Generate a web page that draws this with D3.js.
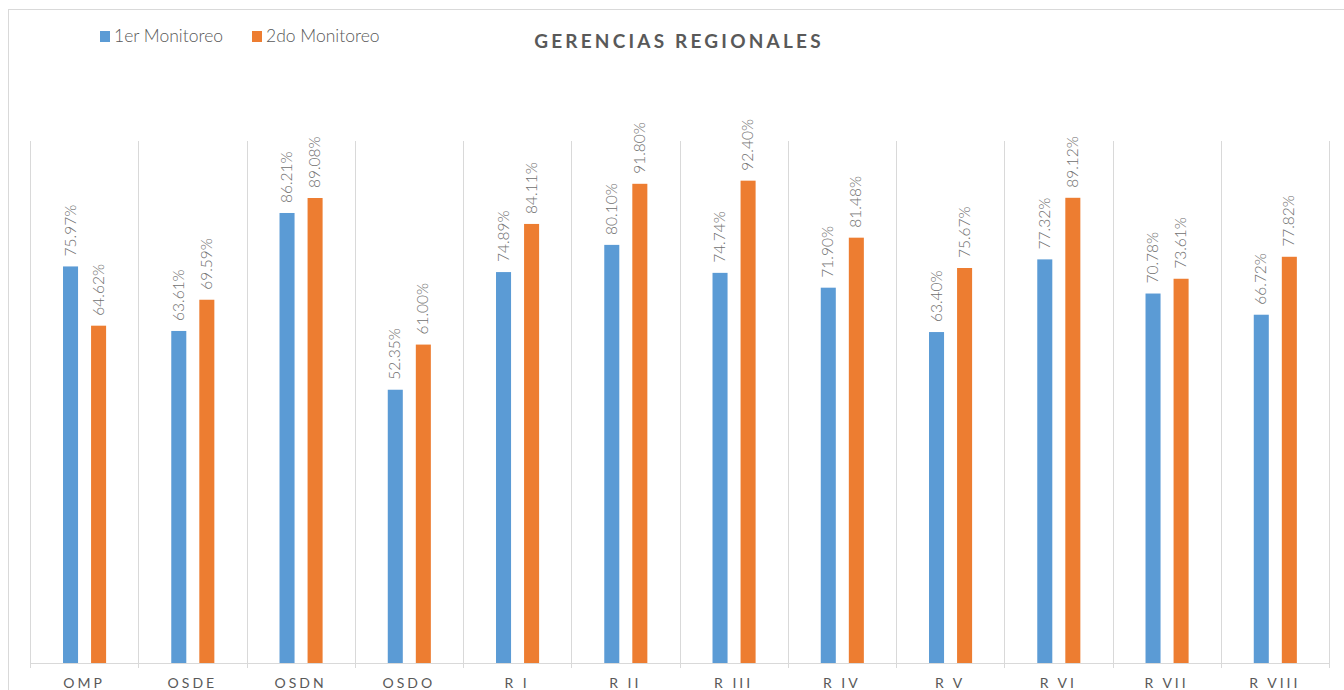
<!DOCTYPE html>
<html>
<head>
<meta charset="utf-8">
<script src="https://cdn.jsdelivr.net/npm/d3@7"></script>
<style>
body { margin: 0; background: #fff; }
svg text { font-family: Lato, "Open Sans", sans-serif; fill: #595959; }
</style>
</head>
<body>
<div id="chart"></div>
<script>
var categories = ["OMP", "OSDE", "OSDN", "OSDO", "R I", "R II", "R III", "R IV", "R V", "R VI", "R VII", "R VIII"];
var monitoreo1 = [75.97, 63.61, 86.21, 52.35, 74.89, 80.10, 74.74, 71.90, 63.40, 77.32, 70.78, 66.72];
var monitoreo2 = [64.62, 69.59, 89.08, 61.00, 84.11, 91.80, 92.40, 81.48, 75.67, 89.12, 73.61, 77.82];
var seriesNames = ["1er Monitoreo", "2do Monitoreo"];
var colors = ["#5b9bd5", "#ed7d31"];

var W = 1344, H = 690;
var margin = {top: 141, right: 15, bottom: 27, left: 30};

var svg = d3.select("#chart").append("svg")
	.attr("width", W)
	.attr("height", H);

// chart frame
svg.append("line").attr("x1", 8.5).attr("x2", 8.5).attr("y1", 9).attr("y2", H)
	.attr("stroke", "#d9d9d9");
svg.append("line").attr("x1", 8).attr("x2", W).attr("y1", 9.5).attr("y2", 9.5)
	.attr("stroke", "#d9d9d9");

var x = d3.scaleBand()
	.domain(categories)
	.range([margin.left, W - margin.right]);

var y = d3.scaleLinear()
	.domain([0, 100])
	.range([H - margin.bottom, margin.top]);

// two bars inside each category, roughly a third in from the left
var x1 = d3.scaleBand()
	.domain([0, 1])
	.range([x.bandwidth() * 0.305, x.bandwidth() * 0.703])
	.paddingInner(0.464);

// vertical separators between categories
var edges = categories.map(function(c) { return x(c); }).concat([x.range()[1]]);
svg.append("g").selectAll("line")
	.data(edges).enter()
	.append("line")
	.attr("x1", function(d) { return Math.round(d) + 0.5; })
	.attr("x2", function(d) { return Math.round(d) + 0.5; })
	.attr("y1", y(100))
	.attr("y2", y(0) + 5)
	.attr("stroke", "#d9d9d9");

// baseline
svg.append("line")
	.attr("x1", x.range()[0]).attr("x2", x.range()[1])
	.attr("y1", y(0) + 0.5).attr("y2", y(0) + 0.5)
	.attr("stroke", "#d9d9d9");

var data = categories.map(function(c, i) {
	return {cat: c, vals: [monitoreo1[i], monitoreo2[i]]};
});

var groups = svg.append("g").selectAll("g")
	.data(data).enter()
	.append("g")
	.attr("transform", function(d) { return "translate(" + x(d.cat) + ",0)"; });

groups.selectAll("rect")
	.data(function(d) { return d.vals.map(function(v, k) { return {k: k, v: v}; }); })
	.enter().append("rect")
	.attr("x", function(d) { return x1(d.k); })
	.attr("width", x1.bandwidth())
	.attr("y", function(d) { return y(d.v); })
	.attr("height", function(d) { return y(0) - y(d.v); })
	.attr("fill", function(d) { return colors[d.k]; });

groups.selectAll("text.val")
	.data(function(d) { return d.vals.map(function(v, k) { return {k: k, v: v}; }); })
	.enter().append("text")
	.attr("class", "val")
	.attr("transform", function(d) {
		return "translate(" + (x1(d.k) + x1.bandwidth() / 2 + 5) + "," + (y(d.v) - 10) + ") rotate(-90)";
	})
	.style("font-size", "15.5px")
	.style("font-weight", "300")
	.style("fill", "#6f6f6f")
	.text(function(d) { return d.v.toFixed(2) + "%"; });

// category labels
svg.append("g").selectAll("text")
	.data(categories).enter()
	.append("text")
	.attr("x", function(d) { return x(d) + x.bandwidth() / 2; })
	.attr("y", H - 2)
	.attr("text-anchor", "middle")
	.style("font-size", "14px")
	.style("letter-spacing", "3px")
	.text(function(d) { return d; });

// title
svg.append("text")
	.attr("x", 679)
	.attr("y", 48)
	.attr("text-anchor", "middle")
	.style("font-size", "19px")
	.style("font-weight", "bold")
	.style("letter-spacing", "3.2px")
	.text("GERENCIAS REGIONALES");

// legend
var legend = svg.append("g").selectAll("g")
	.data(seriesNames).enter()
	.append("g")
	.attr("transform", function(d, i) { return "translate(" + (100 + i * 152) + ",31)"; });
legend.append("rect")
	.attr("width", 10).attr("height", 11)
	.attr("fill", function(d, i) { return colors[i]; });
legend.append("text")
	.attr("x", 14).attr("y", 11)
	.style("font-size", "17.5px")
	.style("font-weight", "300")
	.text(function(d) { return d; });
</script>
</body>
</html>
